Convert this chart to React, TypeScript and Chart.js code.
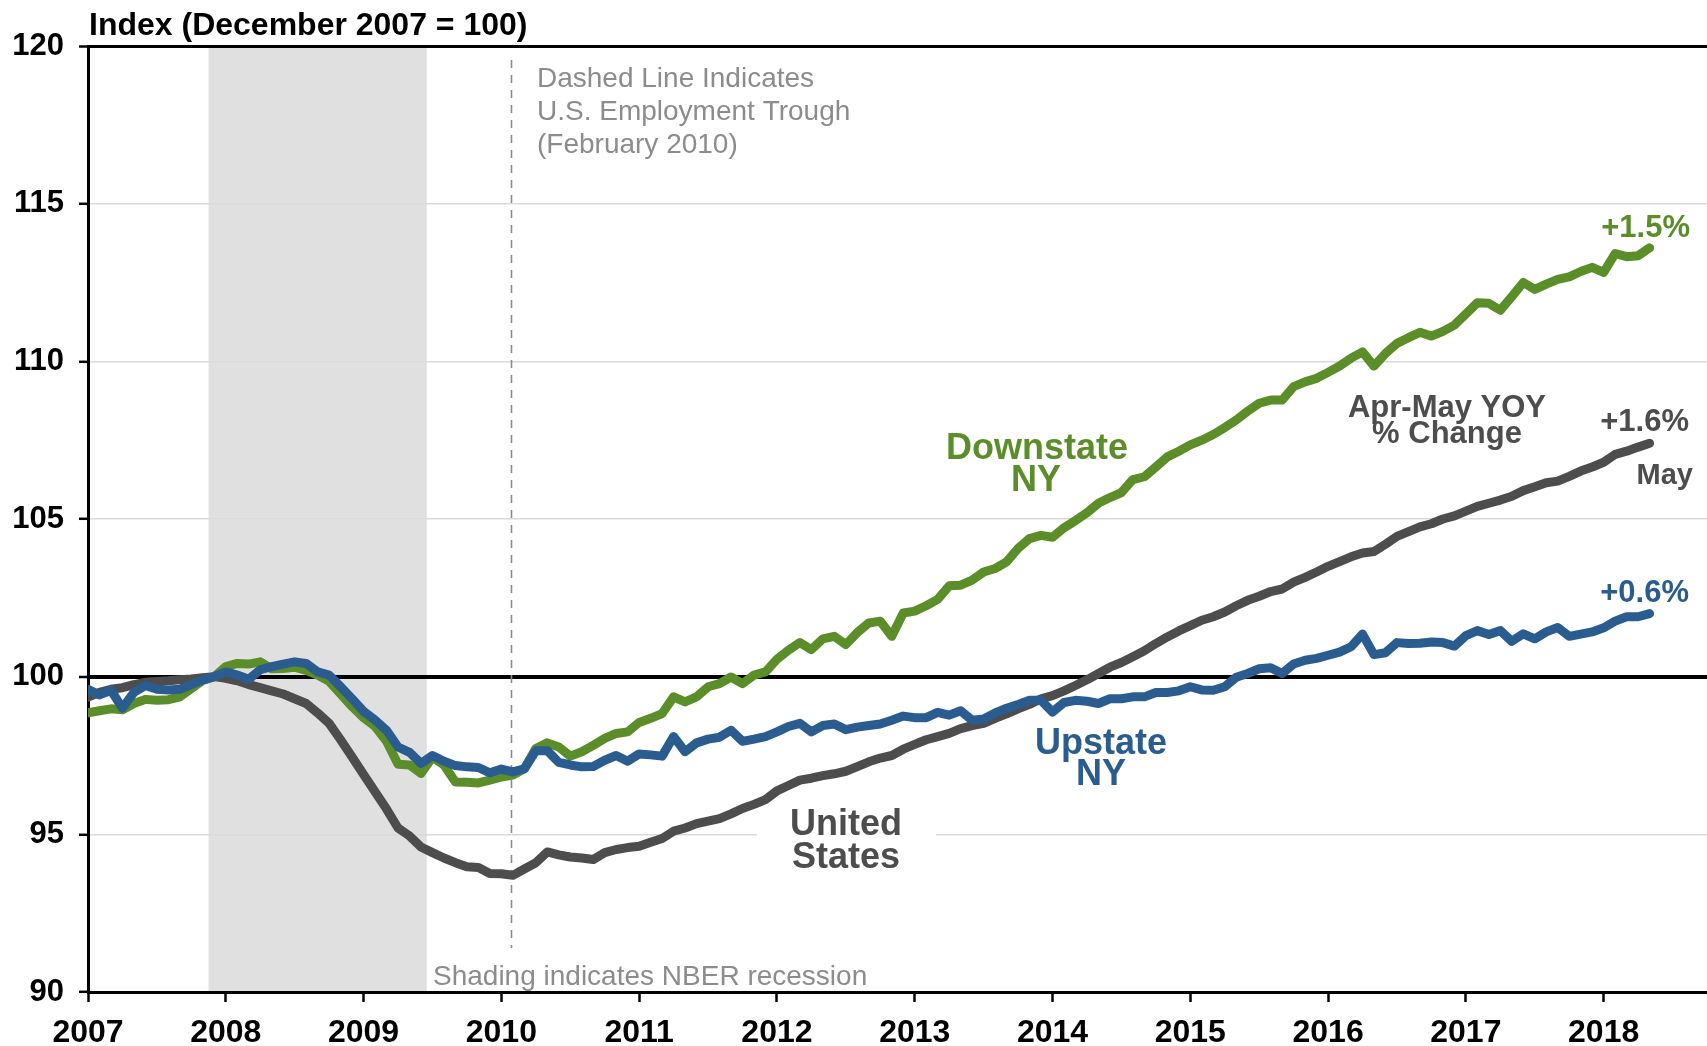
import React, { useEffect, useRef } from 'react';
import { Chart, registerables } from 'chart.js';

Chart.register(...registerables);

// ---- data ----
const START_YEAR = 2007; // first observation: January 2007, monthly thereafter
const unitedStates = [
  99.35, 99.5, 99.6, 99.65, 99.75, 99.82, 99.85, 99.87, 99.9, 99.93, 99.97, 100.0,
  99.95, 99.87, 99.75, 99.65, 99.55, 99.45, 99.3, 99.15, 98.85, 98.52, 98.0, 97.45,
  96.9, 96.35, 95.8, 95.2, 94.95, 94.6, 94.42, 94.25, 94.1, 93.97, 93.95, 93.76,
  93.75, 93.7, 93.9, 94.1, 94.44, 94.35, 94.28, 94.25, 94.2, 94.42, 94.52, 94.58,
  94.62, 94.75, 94.87, 95.1, 95.2, 95.34, 95.42, 95.5, 95.65, 95.82, 95.95, 96.1,
  96.38, 96.55, 96.72, 96.78, 96.86, 96.92, 97.0, 97.15, 97.3, 97.42, 97.5, 97.7,
  97.85, 98.0, 98.1, 98.2, 98.35, 98.45, 98.52, 98.68, 98.82, 98.98, 99.12, 99.3,
  99.4, 99.55, 99.72, 99.9, 100.1, 100.3, 100.45, 100.63, 100.82, 101.05, 101.26, 101.45,
  101.62, 101.79, 101.9, 102.05, 102.25, 102.42, 102.55, 102.7, 102.78, 103.0, 103.15, 103.32,
  103.5, 103.65, 103.8, 103.92, 103.97, 104.2, 104.45, 104.6, 104.75, 104.85, 105.0, 105.1,
  105.25, 105.4, 105.5, 105.6, 105.72, 105.9, 106.02, 106.15, 106.2, 106.35, 106.52, 106.65,
  106.8, 107.05, 107.15, 107.28, 107.4,
];
const upstateNY = [
  99.6, 99.42, 99.57, 99.0, 99.5, 99.72, 99.6, 99.58, 99.6, 99.75, 99.9, 100.0,
  100.15, 100.05, 99.92, 100.22, 100.32, 100.4, 100.47, 100.42, 100.15, 100.05, 99.68, 99.3,
  98.9, 98.62, 98.3, 97.77, 97.6, 97.25, 97.5, 97.32, 97.18, 97.14, 97.12, 96.95,
  97.07, 96.98, 97.08, 97.65, 97.65, 97.28, 97.2, 97.14, 97.15, 97.35, 97.5, 97.32,
  97.55, 97.52, 97.48, 98.1, 97.62, 97.9, 98.02, 98.08, 98.3, 97.95, 98.02, 98.1,
  98.25, 98.42, 98.52, 98.25, 98.45, 98.5, 98.32, 98.4, 98.45, 98.5, 98.62, 98.75,
  98.7, 98.7, 98.87, 98.78, 98.92, 98.62, 98.66, 98.85, 99.0, 99.12, 99.25, 99.25,
  98.88, 99.18, 99.25, 99.22, 99.15, 99.3, 99.3, 99.36, 99.36, 99.5, 99.5, 99.55,
  99.68, 99.58, 99.57, 99.68, 99.98, 100.1, 100.25, 100.28, 100.1, 100.4, 100.52, 100.58,
  100.68, 100.78, 100.95, 101.35, 100.7, 100.76, 101.08, 101.05, 101.06, 101.1, 101.08, 100.97,
  101.3, 101.46, 101.34, 101.46, 101.12, 101.36, 101.2, 101.42, 101.56, 101.28, 101.35, 101.42,
  101.55, 101.76, 101.9, 101.9, 102.0,
];
const downstateNY = [
  98.85, 98.92, 98.98, 98.95, 99.15, 99.28, 99.25, 99.27, 99.36, 99.62, 99.88, 100.0,
  100.32, 100.42, 100.4, 100.47, 100.25, 100.26, 100.3, 100.2, 100.05, 99.85, 99.45, 99.05,
  98.7, 98.42, 97.95, 97.22, 97.2, 96.93, 97.45, 97.2, 96.66, 96.65, 96.63, 96.72,
  96.82, 96.88, 97.08, 97.72, 97.9, 97.77, 97.48, 97.62, 97.82, 98.04, 98.2, 98.25,
  98.55, 98.68, 98.83, 99.36, 99.2, 99.36, 99.68, 99.78, 99.99, 99.78, 100.05, 100.15,
  100.55, 100.84, 101.08, 100.86, 101.2, 101.28, 101.02, 101.4, 101.7, 101.76, 101.28, 102.02,
  102.08, 102.25, 102.45, 102.88, 102.9, 103.06, 103.32, 103.43, 103.64, 104.07, 104.38, 104.48,
  104.42, 104.72, 104.95, 105.2, 105.5, 105.68, 105.84, 106.25, 106.34, 106.65, 106.97, 107.15,
  107.35, 107.5, 107.68, 107.9, 108.14, 108.42, 108.67, 108.77, 108.77, 109.2, 109.35, 109.46,
  109.65, 109.85, 110.1, 110.3, 109.85, 110.25, 110.57, 110.75, 110.92, 110.8, 110.95, 111.15,
  111.5, 111.86, 111.84, 111.62, 112.05, 112.5, 112.28, 112.45, 112.6, 112.68, 112.85, 112.98,
  112.82, 113.42, 113.32, 113.35, 113.6,
];
const yearTicks = [2007, 2008, 2009, 2010, 2011, 2012, 2013, 2014, 2015, 2016, 2017, 2018];
const indexTicks = [90, 95, 100, 105, 110, 115, 120];
const recessionMonths = [11, 29]; // Dec 2007 .. Jun 2009 (month index from Jan 2007)
const troughMonth = 37; // Feb 2010

// ---- styles ----
const FONT = '"Liberation Sans", Arial, Helvetica, sans-serif';
const GREEN = '#5b8e29';
const BLUE = '#2b5c8f';
const GRAY = '#4d4d4d';
const NOTE = '#8c8c8c';

const monthToX = (m: number) => START_YEAR + m / 12;
const toPoints = (arr: number[]) => arr.map((v, i) => ({ x: monthToX(i), y: v }));

function text(ctx: CanvasRenderingContext2D, s: string, x: number, capCenterY: number, size: number, bold: boolean, color: string, align: CanvasTextAlign) {
  ctx.font = `${bold ? 'bold ' : ''}${size}px ${FONT}`;
  ctx.fillStyle = color;
  ctx.textAlign = align;
  ctx.textBaseline = 'alphabetic';
  ctx.fillText(s, x, capCenterY + size * 0.358);
}

const decorations = {
  id: 'decorations',
  beforeDraw(chart: any) {
    const { ctx, chartArea, scales } = chart;
    const x = scales.x;
    const x0 = x.getPixelForValue(monthToX(recessionMonths[0] - 0.5));
    const x1 = x.getPixelForValue(monthToX(recessionMonths[1] + 0.5));
    ctx.save();
    ctx.fillStyle = '#e0e0e0';
    ctx.fillRect(x0, chartArea.top, x1 - x0, chartArea.bottom - chartArea.top);
    ctx.restore();
  },
  beforeDatasetsDraw(chart: any) {
    const { ctx, scales } = chart;
    const xp = Math.round(scales.x.getPixelForValue(monthToX(troughMonth))) - 1.5;
    ctx.save();
    ctx.strokeStyle = '#8c8c8c';
    ctx.lineWidth = 1.6;
    ctx.setLineDash([8, 7]);
    ctx.beginPath();
    ctx.moveTo(xp, 60);
    ctx.lineTo(xp, 948);
    ctx.stroke();
    ctx.setLineDash([]);
    // white box behind "United States"
    ctx.fillStyle = '#ffffff';
    ctx.fillRect(757, 798, 179, 76);
    ctx.restore();
  },
  afterDraw(chart: any) {
    const { ctx } = chart;
    ctx.save();
    text(ctx, 'Index (December 2007 = 100)', 89, 24, 32, true, '#000', 'left');
    text(ctx, 'Dashed Line Indicates', 537, 77, 28, false, NOTE, 'left');
    text(ctx, 'U.S. Employment Trough', 537, 110, 28, false, NOTE, 'left');
    text(ctx, '(February 2010)', 537, 143, 28, false, NOTE, 'left');
    text(ctx, 'Shading indicates NBER recession', 433, 975, 28, false, NOTE, 'left');
    text(ctx, 'Downstate', 1037, 446, 36, true, GREEN, 'center');
    text(ctx, 'NY', 1036, 478, 36, true, GREEN, 'center');
    text(ctx, 'Upstate', 1101, 741, 36, true, BLUE, 'center');
    text(ctx, 'NY', 1101, 772, 36, true, BLUE, 'center');
    text(ctx, 'United', 846, 822, 36, true, GRAY, 'center');
    text(ctx, 'States', 846, 855, 36, true, GRAY, 'center');
    text(ctx, 'Apr-May YOY', 1447, 406, 31, true, GRAY, 'center');
    text(ctx, '% Change', 1447, 432, 31, true, GRAY, 'center');
    text(ctx, '+1.5%', 1690, 226, 31, true, GREEN, 'right');
    text(ctx, '+1.6%', 1689, 420, 31, true, GRAY, 'right');
    text(ctx, 'May', 1693, 474, 29, true, GRAY, 'right');
    text(ctx, '+0.6%', 1689, 591, 31, true, BLUE, 'right');
    ctx.restore();
  },
};

export default function App() {
  const ref = useRef<HTMLCanvasElement>(null);
  useEffect(() => {
    document.body.style.margin = '0';
    const canvas = ref.current!;
    const line = (label: string, data: number[], color: string) => ({
      label,
      data: toPoints(data),
      borderColor: color,
      backgroundColor: color,
      borderWidth: 9,
      pointRadius: 0,
      tension: 0,
      borderCapStyle: 'round' as const,
      borderJoinStyle: 'round' as const,
      fill: false,
    });
    const chart = new Chart(canvas, {
      type: 'line',
      data: {
        datasets: [
          line('Upstate NY', upstateNY, BLUE),
          line('Downstate NY', downstateNY, GREEN),
          line('United States', unitedStates, GRAY),
        ],
      },
      options: {
        responsive: false,
        animation: false,
        devicePixelRatio: 1,
        layout: { padding: { top: 46, right: 0, left: 0, bottom: 0 } },
        plugins: { legend: { display: false }, tooltip: { enabled: false }, title: { display: false } },
        scales: {
          x: {
            type: 'linear',
            min: 2007,
            max: 2018.75,
            afterFit: (s: any) => { s.height = 54; },
            afterBuildTicks: (s: any) => { s.ticks = yearTicks.map((v) => ({ value: v })); },
            ticks: {
              autoSkip: false,
              maxRotation: 0,
              padding: 12,
              color: '#000',
              font: { family: FONT, size: 32, weight: 'bold' },
              callback: (v: any) => String(v),
            },
            grid: { drawOnChartArea: false, drawTicks: true, tickLength: 10, tickColor: '#000', tickWidth: 2.5 },
            border: { display: true, color: '#000', width: 3 },
          },
          y: {
            type: 'linear',
            min: 90,
            max: 120,
            afterFit: (s: any) => { s.width = 88; },
            afterBuildTicks: (s: any) => { s.ticks = indexTicks.map((v) => ({ value: v })); },
            ticks: {
              padding: 15,
              color: '#000',
              font: { family: FONT, size: 31, weight: 'bold' },
              callback: (v: any) => String(v),
            },
            grid: {
              drawTicks: true,
              tickLength: 9,
              tickColor: '#000',
              tickWidth: 2.5,
              color: (c: any) => (c.tick.value === 100 || c.tick.value === 120 ? '#000' : c.tick.value === 90 ? 'rgba(0,0,0,0)' : '#dadada'),
              lineWidth: (c: any) => (c.tick.value === 100 ? 4 : c.tick.value === 120 ? 3 : 1.6),
            },
            border: { display: true, color: '#000', width: 3 },
          },
        },
      },
      plugins: [decorations],
    } as any);
    return () => chart.destroy();
  }, []);
  return (
    <div style={{ position: 'fixed', left: 0, top: 0, width: 1707, height: 1046, background: '#fff' }}>
      <canvas ref={ref} width={1707} height={1046} style={{ display: 'block', width: 1707, height: 1046 }} />
    </div>
  );
}
